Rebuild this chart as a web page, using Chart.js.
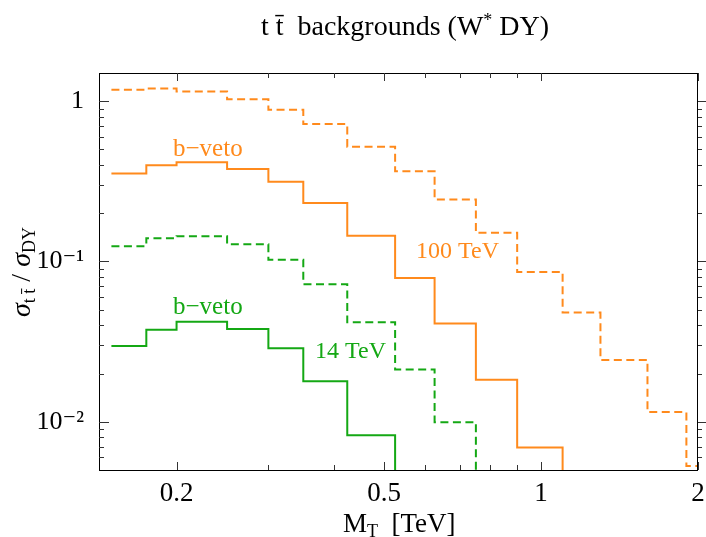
<!DOCTYPE html>
<html>
<head>
<meta charset="utf-8">
<script src="https://cdn.jsdelivr.net/npm/chart.js@4.4.1/dist/chart.umd.min.js"></script>
<style>
  html, body { margin: 0; padding: 0; background: #fff; }
</style>
</head>
<body>
<canvas id="chartTT" width="706" height="537"></canvas>
<script>
// bin edges in M_T [TeV]
const binEdges = [0.15, 0.175, 0.2, 0.25, 0.3, 0.35, 0.425, 0.525, 0.625, 0.75, 0.9, 1.1, 1.3, 1.6, 1.9, 2.0];

// sigma_tt / sigma_DY per bin
const all100 = [1.18, 1.20, 1.15, 1.03, 0.885, 0.72, 0.52, 0.365, 0.244, 0.151, 0.086, 0.048, 0.0243, 0.0115, 0.0053];
const bveto100 = [0.354, 0.398, 0.416, 0.378, 0.314, 0.232, 0.145, 0.079, 0.041, 0.0183, 0.0069];
const all14 = [0.1246, 0.1397, 0.1438, 0.128, 0.1024, 0.0722, 0.0417, 0.0212, 0.00993];
const bveto14 = [0.0297, 0.0375, 0.0421, 0.0379, 0.0287, 0.0179, 0.00824];
const belowAxis = 0.001; // histogram falls off the bottom of the frame

const xTicks = [0.2, 0.5, 1, 2];
const xMinor = [0.3, 0.4, 0.6, 0.7, 0.8, 0.9];
const yTicks = [0.01, 0.1, 1];
const yTickLabels = ['10\u207B\u00B2', '10\u207B\u00B9', '1'];
const yMinor = [0.006, 0.007, 0.008, 0.009, 0.02, 0.03, 0.04, 0.05, 0.06, 0.07, 0.08, 0.09, 0.2, 0.3, 0.4, 0.5, 0.6, 0.7, 0.8, 0.9];

const orange = '#ff8a1c';
const green = '#14a814';
const serif = "'Liberation Serif', 'DejaVu Serif', serif";

// turn bin values into step points; drop to below the axis when the series stops early
function steps(vals) {
  const pts = vals.map((v, i) => ({ x: binEdges[i], y: v }));
  const n = vals.length;
  if (n === binEdges.length - 1) {
    pts.push({ x: binEdges[n], y: vals[n - 1] });
  } else {
    pts.push({ x: binEdges[n], y: belowAxis });
  }
  return pts;
}

function ds(label, vals, color, dashed) {
  return {
    label: label,
    data: steps(vals),
    borderColor: color,
    borderWidth: 2,
    borderDash: dashed ? [8, 4.5] : [],
    stepped: true,
    pointRadius: 0,
    fill: false,
    clip: 0
  };
}

const framePlugin = {
  id: 'frame',
  afterDraw(chart) {
    const ctx = chart.ctx;
    const a = chart.chartArea;
    const xs = chart.scales.x, ys = chart.scales.y;
    ctx.save();
    ctx.strokeStyle = '#000';
    ctx.lineWidth = 1;
    ctx.strokeRect(a.left + 0.5, a.top + 0.5, a.right - a.left - 1, a.bottom - a.top);

    ctx.strokeStyle = '#333';
    function xTick(v, len) {
      const px = Math.round(xs.getPixelForValue(v)) + 0.5;
      ctx.beginPath();
      ctx.moveTo(px, a.bottom); ctx.lineTo(px, a.bottom - len);
      ctx.moveTo(px, a.top); ctx.lineTo(px, a.top + len);
      ctx.stroke();
    }
    function yTick(v, len) {
      const py = Math.round(ys.getPixelForValue(v)) + 0.5;
      ctx.beginPath();
      ctx.moveTo(a.left, py); ctx.lineTo(a.left + len, py);
      ctx.moveTo(a.right, py); ctx.lineTo(a.right + len * 0.8, py);
      ctx.stroke();
    }
    xTicks.forEach(v => xTick(v, 8));
    xMinor.forEach(v => xTick(v, 5));
    yTicks.forEach(v => yTick(v, 10));
    yMinor.forEach(v => yTick(v, 5));

    // title
    ctx.fillStyle = '#000';
    ctx.textBaseline = 'alphabetic';
    const t1 = 't t\u0304  backgrounds (W';
    const t2 = '*';
    const t3 = ' DY)';
    ctx.font = '28px ' + serif;
    const w1 = ctx.measureText(t1).width, w3 = ctx.measureText(t3).width;
    ctx.font = '18px ' + serif;
    const w2 = ctx.measureText(t2).width;
    let tx = 405 - (w1 + w2 + w3) / 2;
    ctx.font = '28px ' + serif;
    ctx.fillText(t1, tx, 35);
    ctx.font = '18px ' + serif;
    ctx.fillText(t2, tx + w1, 26);
    ctx.font = '28px ' + serif;
    ctx.fillText(t3, tx + w1 + w2, 35);

    // x axis title
    ctx.font = '27px ' + serif;
    ctx.fillText('M', 343, 532);
    let mw = ctx.measureText('M').width;
    ctx.font = '18px ' + serif;
    ctx.fillText('T', 343 + mw, 537);
    let tw = ctx.measureText('T').width;
    ctx.font = '27px ' + serif;
    ctx.fillText('  [TeV]', 343 + mw + tw, 532);

    // y axis title, rotated
    ctx.save();
    ctx.translate(30, 272);
    ctx.rotate(-Math.PI / 2);
    const parts = [
      ['\u03C3', 28, 0, 'italic '],
      ['t t\u0304', 18, 5, ''],
      [' / ', 28, 0, ''],
      ['\u03C3', 28, 0, 'italic '],
      ['DY', 18, 5, '']
    ];
    let total = 0;
    parts.forEach(p => { ctx.font = p[3] + p[1] + 'px ' + serif; total += ctx.measureText(p[0]).width; });
    let cx = -total / 2;
    parts.forEach(p => {
      ctx.font = p[3] + p[1] + 'px ' + serif;
      ctx.fillText(p[0], cx, p[2]);
      cx += ctx.measureText(p[0]).width;
    });
    ctx.restore();

    // curve labels
    ctx.font = '25px ' + serif;
    ctx.fillStyle = orange;
    ctx.fillText('b\u2212veto', 173, 156);
    ctx.font = '24px ' + serif;
    ctx.fillText('100 TeV', 416, 258);
    ctx.fillStyle = green;
    ctx.font = '25px ' + serif;
    ctx.fillText('b\u2212veto', 173, 314);
    ctx.font = '24px ' + serif;
    ctx.fillText('14 TeV', 315, 358);
    ctx.restore();
  }
};

new Chart(document.getElementById('chartTT'), {
  type: 'line',
  data: {
    datasets: [
      ds('100 TeV', all100, orange, true),
      ds('100 TeV b-veto', bveto100, orange, false),
      ds('14 TeV', all14, green, true),
      ds('14 TeV b-veto', bveto14, green, false)
    ]
  },
  options: {
    responsive: false,
    animation: false,
    layout: { padding: { top: 73, right: 8, left: 0, bottom: 0 } },
    plugins: { legend: { display: false }, tooltip: { enabled: false } },
    scales: {
      x: {
        type: 'logarithmic',
        min: 0.142,
        max: 2.0,
        afterBuildTicks: s => { s.ticks = xTicks.map(v => ({ value: v })); },
        afterFit: s => { s.height = 67; },
        grid: { display: false },
        border: { display: false },
        ticks: {
          autoSkip: false,
          maxRotation: 0,
          padding: 0,
          color: '#000',
          font: { family: serif, size: 27 },
          callback: v => String(v)
        }
      },
      y: {
        type: 'logarithmic',
        min: 0.005,
        max: 1.5,
        afterBuildTicks: s => { s.ticks = yTicks.map(v => ({ value: v })); },
        afterFit: s => { s.width = 99; },
        grid: { display: false },
        border: { display: false },
        ticks: {
          autoSkip: false,
          padding: 7,
          color: '#000',
          font: { family: serif, size: 26 },
          callback: (v, i) => yTickLabels[i]
        }
      }
    }
  },
  plugins: [framePlugin]
});
</script>
</body>
</html>
